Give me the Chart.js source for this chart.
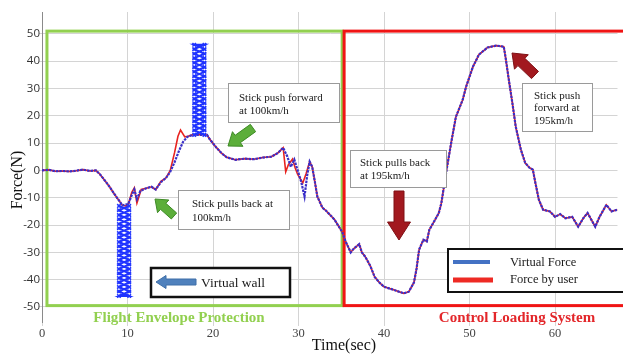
<!DOCTYPE html>
<html><head><meta charset="utf-8">
<script src="https://cdn.jsdelivr.net/npm/chart.js@4/dist/chart.umd.min.js"></script>
<style>html,body{margin:0;padding:0;background:#fff;}#wrap{width:623px;height:354px;position:relative;}</style>
</head><body><div id="wrap"><canvas id="c"></canvas></div>
<script>
const xTicks=[0,10,20,30,40,50,60];
const yTicks=[-50,-40,-30,-20,-10,0,10,20,30,40,50];
const seriesNames=['Virtual Force','Force by user'];

const timeVirtual=[0,0.8,1.6,2.4,3.2,4.0,4.8,5.6,6.3,6.8,7.3,7.9,8.5,9.0,9.4,
10.1,10.5,10.8,11.1,11.5,12.2,12.8,13.3,13.9,14.5,15.0,15.5,16.0,16.5,17.0,17.6,
19.3,19.6,20.3,21.0,21.6,22.6,23.7,24.8,25.8,26.8,27.6,28.2,
28.7,29.1,29.5,29.9,30.3,30.7,31.0,31.3,31.6,31.9,32.2,
32.8,33.1,33.6,34.2,34.8,35.1,35.5,35.8,36.1,36.5,
37.1,37.4,37.8,38.4,38.9,39.5,40.0,41.1,42.3,42.9,
43.5,43.8,44.1,44.6,45.0,45.3,45.8,46.4,46.7,47.0,
47.3,47.9,48.4,49.2,49.6,50.4,51.1,52.1,53.1,54.0,
54.2,54.6,55.0,55.4,56.0,56.5,57.0,57.4,57.7,58.1,
58.6,59.4,60.0,60.6,61.2,62.0,62.7,63.3,63.8,64.7,
65.2,66.0,66.6,67.3];
const forceVirtual=[0,0.2,-0.3,-0.2,-0.4,-0.1,0.3,-0.2,0,-1.5,-3.5,-6,-8.8,-11,-12.8,
-12.3,-9,-7,-10.5,-7.5,-6.5,-6,-7,-4.3,-2.8,-0.5,3,7,10.5,12.3,13,
13,11.5,8.7,6.3,4.8,3.9,4.3,4.1,4.7,5,6.4,8.3,
5,1.3,4,0,-4,-9.6,-2,3.2,1.3,-4,-9.6,
-13.7,-14.4,-16,-18,-21,-22.5,-26,-28,-30,-28.5,
-27,-30,-31.6,-35,-39,-41.2,-42.6,-43.7,-45,-44.4,
-41,-36,-29,-25.4,-26,-21.7,-19,-15.6,-12,-6,
0,11,19.6,25.9,30.7,38,42.4,45,45.7,45.3,
41.6,33,24.8,16,7.6,2.8,1,0.3,-4.6,-10.7,
-14.4,-15,-17,-16,-17.5,-17,-20.6,-17.5,-15.6,-20.6,
-17,-12.6,-15,-14.4];

const timeUser=[0,0.8,1.6,2.4,3.2,4.0,4.8,5.6,6.3,6.8,7.3,7.9,8.5,9.0,9.4,9.8,
10.1,10.5,10.8,11.1,11.6,12.2,12.8,13.3,13.9,14.5,15.0,15.5,15.9,16.2,16.7,17.1,17.6,18.5,
19.3,19.6,20.3,21.0,21.6,22.6,23.7,24.8,25.8,26.8,27.6,28.2,
28.5,28.8,29.3,29.6,29.9,30.5,30.9,31.3,31.6,31.9,32.2,
32.8,33.1,33.6,34.2,34.8,35.1,35.5,35.8,36.1,36.5,
37.1,37.4,37.8,38.4,38.9,39.5,40.0,41.1,42.3,42.9,
43.5,43.8,44.1,44.6,45.0,45.3,45.8,46.4,46.7,47.0,
47.3,47.9,48.4,49.2,49.6,50.4,51.1,52.1,53.1,54.0,
54.2,54.6,55.0,55.4,56.0,56.5,57.0,57.4,57.7,58.1,
58.6,59.4,60.0,60.6,61.2,62.0,62.7,63.3,63.8,64.7,
65.2,66.0,66.6,67.3];
const forceUser=[0,0.2,-0.3,-0.2,-0.4,-0.1,0.3,-0.2,0,-1.5,-3.5,-6,-8.8,-11,-12.8,-13,
-12.3,-8,-6.4,-12,-7,-6.5,-6,-7,-4,-2.7,0,6.5,12.5,14.8,12.3,12.5,13,13.2,
13,11.5,8.7,6.3,4.8,3.9,4.3,4.1,4.7,5,6.4,8.3,
-0.5,2,4.2,1,-1.5,-4.6,-1,3.2,1.3,-4,-9.6,
-13.7,-14.4,-16,-18,-21,-22.5,-26,-28,-30,-28.5,
-27,-30,-31.6,-35,-39,-41.2,-42.6,-43.7,-45,-44.4,
-41,-36,-29,-25.4,-26,-21.7,-19,-15.6,-12,-6,
0,11,19.6,25.9,30.7,38,42.4,45,45.7,45.3,
41.6,33,24.8,16,7.6,2.8,1,0.3,-4.6,-10.7,
-14.4,-15,-17,-16,-17.5,-17,-20.6,-17.5,-15.6,-20.6,
-17,-12.6,-15,-14.4];

// virtual wall oscillations (down then back up)
const wall1Time=[9.0,10.2,9.0,10.2,9.0,10.2,9.0,10.2,9.0,10.2,9.0,10.2,9.0,10.2,9.0,10.2,9.0,10.2,9.0,10.2,9.0,
10.2,9.0,10.2,9.0,10.2,9.0,10.2,9.0,10.2,9.0,10.2,9.0,10.2,9.0,10.2,9.0,10.2,9.0,10.2,9.0,10.2];
const wall1Force=[-13,-14.6,-16.3,-17.9,-19.6,-21.2,-22.9,-24.5,-26.2,-27.8,-29.5,-31.1,-32.8,-34.4,-36.1,-37.7,-39.4,-41,-42.7,-44.3,-46,
-46,-44.3,-42.7,-41,-39.4,-37.7,-36.1,-34.4,-32.8,-31.1,-29.5,-27.8,-26.2,-24.5,-22.9,-21.2,-19.6,-17.9,-16.3,-14.6,-13];
const wall2Time=[17.8,19.0,17.8,19.0,17.8,19.0,17.8,19.0,17.8,19.0,17.8,19.0,17.8,19.0,17.8,19.0,17.8,19.0,17.8,19.0,17.8,
19.0,17.8,19.0,17.8,19.0,17.8,19.0,17.8,19.0,17.8,19.0,17.8,19.0,17.8,19.0,17.8,19.0,17.8,19.0,17.8,19.0];
const wall2Force=[13,14.7,16.3,18,19.6,21.3,22.9,24.6,26.2,27.9,29.5,31.2,32.8,34.5,36.1,37.8,39.4,41.1,42.7,44.4,46,
46,44.4,42.7,41.1,39.4,37.8,36.1,34.5,32.8,31.2,29.5,27.9,26.2,24.6,22.9,21.3,19.6,18,16.3,14.7,13];

const pts=(ts,vs)=>ts.map((t,i)=>({x:t,y:vs[i]}));
const SERIF='"Liberation Serif","Times New Roman",serif';

function blockArrow(ctx,x1,y1,x2,y2,w,hw,hl,fill,stroke){
  const dx=x2-x1,dy=y2-y1,L=Math.hypot(dx,dy);
  const ux=dx/L,uy=dy/L,nx=-uy,ny=ux;
  const bx=x2-ux*hl,by=y2-uy*hl;
  ctx.beginPath();
  ctx.moveTo(x1+nx*w/2,y1+ny*w/2);
  ctx.lineTo(bx+nx*w/2,by+ny*w/2);
  ctx.lineTo(bx+nx*hw/2,by+ny*hw/2);
  ctx.lineTo(x2,y2);
  ctx.lineTo(bx-nx*hw/2,by-ny*hw/2);
  ctx.lineTo(bx-nx*w/2,by-ny*w/2);
  ctx.lineTo(x1-nx*w/2,y1-ny*w/2);
  ctx.closePath();
  ctx.fillStyle=fill;ctx.fill();
  if(stroke){ctx.strokeStyle=stroke;ctx.lineWidth=1;ctx.stroke();}
}
function textBox(ctx,x,y,w,h,lines,lx,ly0,lh,font,border,bw){
  ctx.fillStyle='#fff';ctx.fillRect(x,y,w,h);
  ctx.strokeStyle=border;ctx.lineWidth=bw;ctx.strokeRect(x,y,w,h);
  ctx.fillStyle='#1a1a1a';ctx.font=font;ctx.textAlign='left';ctx.textBaseline='middle';
  lines.forEach((s,i)=>ctx.fillText(s,lx,ly0+i*lh));
}

const deco={
  id:'deco',
  beforeDatasetsDraw(chart){
    const {ctx,scales:{x,y}}=chart;
    ctx.save();
    ctx.lineWidth=3;
    ctx.strokeStyle='#92d050';
    ctx.strokeRect(x.getPixelForValue(0.58),y.getPixelForValue(51),x.getPixelForValue(35.1)-x.getPixelForValue(0.58),y.getPixelForValue(-49.5)-y.getPixelForValue(51));
    ctx.strokeStyle='#f01414';
    ctx.strokeRect(x.getPixelForValue(35.33),y.getPixelForValue(51),x.getPixelForValue(70)-x.getPixelForValue(35.33),y.getPixelForValue(-49.5)-y.getPixelForValue(51));
    ctx.restore();
  },
  afterDatasetsDraw(chart){
    const {ctx}=chart;
    ctx.save();
    const f11='11px '+SERIF;
    textBox(ctx,228.5,83.5,111,39,['Stick push forward','at 100km/h'],239,98,13,f11,'#9a9a9a',1);
    textBox(ctx,178.5,190.5,111,39,['Stick pulls back at','100km/h'],192,204,14,f11,'#9a9a9a',1);
    textBox(ctx,522.5,83.5,70,48,['Stick push','forward at','195km/h'],534,96,12.5,f11,'#9a9a9a',1);
    textBox(ctx,350.5,150.5,96,37,['Stick pulls back','at 195km/h'],360,163,13,f11,'#9a9a9a',1);
    // virtual wall box
    textBox(ctx,151,268,139,29,['Virtual wall'],201,283,0,'13.5px '+SERIF,'#111',2.5);
    blockArrow(ctx,196,282,156,282,6,13,10,'#4f81bd','#3f6fa8');
    // arrows
    blockArrow(ctx,253,128,228,146,9,18,12,'#5cae3a','#3e8a26');
    blockArrow(ctx,174,216,155,199,8,17,11,'#5cae3a','#3e8a26');
    blockArrow(ctx,535,75,512,53,10,20,13,'#a2191f','#7e1015');
    blockArrow(ctx,399,191,399,240,10,23,18,'#a2191f','#7e1015');
    // legend
    ctx.fillStyle='#fff';ctx.fillRect(448,249,180,43);
    ctx.strokeStyle='#111';ctx.lineWidth=2;ctx.strokeRect(448,249,180,43);
    ctx.lineCap='butt';
    ctx.strokeStyle='#4472c4';ctx.lineWidth=4;ctx.beginPath();ctx.moveTo(453,262);ctx.lineTo(490,262);ctx.stroke();
    ctx.strokeStyle='#ee2a24';ctx.lineWidth=5;ctx.beginPath();ctx.moveTo(453,280);ctx.lineTo(493,280);ctx.stroke();
    ctx.fillStyle='#1a1a1a';ctx.font='12.5px '+SERIF;ctx.textAlign='left';ctx.textBaseline='middle';
    ctx.fillText(seriesNames[0],510,263);
    ctx.fillText(seriesNames[1],510,280);
    // region labels
    ctx.font='bold 15px '+SERIF;ctx.textAlign='center';
    ctx.fillStyle='#92d050';ctx.fillText('Flight Envelope Protection',179,318);
    ctx.fillStyle='#e3262a';ctx.fillText('Control Loading System',517,318);
    // axis titles
    ctx.fillStyle='#111';ctx.font='16px '+SERIF;
    ctx.fillText('Time(sec)',344,346);
    ctx.translate(18,180);ctx.rotate(-Math.PI/2);
    ctx.fillText('Force(N)',0,0);
    ctx.restore();
  }
};

new Chart(document.getElementById('c'),{
  type:'line',
  data:{datasets:[
    {label:'wall1',data:pts(wall1Time,wall1Force),borderColor:'#1f33ff',borderWidth:2,pointStyle:'crossRot',pointRadius:2.5,pointBorderColor:'#1f33ff',pointBorderWidth:1.5,tension:0,order:0},
    {label:'wall2',data:pts(wall2Time,wall2Force),borderColor:'#1f33ff',borderWidth:2,pointStyle:'crossRot',pointRadius:2.5,pointBorderColor:'#1f33ff',pointBorderWidth:1.5,tension:0,order:0},
    {label:seriesNames[0],data:pts(timeVirtual,forceVirtual),borderColor:'#3a2fc8',borderWidth:2.2,borderDash:[2.5,1],pointRadius:0,tension:0,order:1},
    {label:seriesNames[1],data:pts(timeUser,forceUser),borderColor:'#e8231f',borderWidth:1.6,pointRadius:0,tension:0,order:2}
  ]},
  options:{
    responsive:true,maintainAspectRatio:false,animation:false,
    layout:{padding:{top:12,left:0,right:0,bottom:0}},
    plugins:{legend:{display:false},tooltip:{enabled:false}},
    scales:{
      x:{type:'linear',min:0,max:67.3,
        afterBuildTicks:s=>{s.ticks=xTicks.map(v=>({value:v}));},
        afterFit:s=>{s.height=32;},
        grid:{color:'#d4d4d4',lineWidth:1,tickLength:4,drawTicks:true},
        border:{display:false},
        ticks:{font:{family:SERIF,size:12.5},color:'#444',padding:0,maxRotation:0}
      },
      y:{type:'linear',min:-55.5,max:58,
        afterBuildTicks:s=>{s.ticks=yTicks.map(v=>({value:v}));},
        afterFit:s=>{s.width=42;},
        grid:{color:'#d4d4d4',lineWidth:1,tickLength:3},
        border:{display:true,color:'#8a8a8a',width:1},
        ticks:{font:{family:'"Open Sans","DejaVu Sans",sans-serif',size:11.5},color:'#333',padding:-1}
      }
    }
  },
  plugins:[deco]
});
</script></body></html>
